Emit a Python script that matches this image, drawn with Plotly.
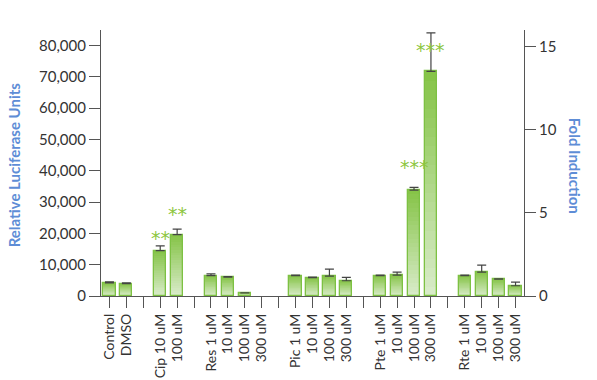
import plotly.graph_objects as go

# ---- data ----
categories = ["Control", "DMSO", "", "Cip 10 uM", "100 uM", "",
              "Res 1 uM", "10 uM", "100 uM", "300 uM", "",
              "Pic 1 uM", "10 uM", "100 uM", "300 uM", "",
              "Pte 1 uM", "10 uM", "100 uM", "300 uM", "",
              "Rte 1 uM", "10 uM", "100 uM", "300 uM"]
rlu = [4200, 3980, None, 14500, 19600, None,
       6530, 6000, 1000, 0, None,
       6470, 5830, 6370, 4870, None,
       6470, 6690, 33850, 71750, None,
       6470, 7640, 5410, 3280]
rlu_err = [300, 200, None, 1500, 1800, None,
           550, 200, 0, 0, None,
           200, 220, 2200, 1050, None,
           200, 950, 850, 12300, None,
           200, 2230, 100, 1180]
significance = {3: "**", 4: "**", 18: "***", 19: "***"}
left_ticks = [0, 10000, 20000, 30000, 40000, 50000, 60000, 70000, 80000]
right_ticks = [0, 5, 10, 15]

# ---- styling ----
FONT = "Lato"
TOP = (0x86, 0xC4, 0x48)
BOTTOM = (0xD8, 0xEB, 0xC8)
OUTLINE = "#7DC143"
AXIS = "#555555"
TITLE_BLUE = "#5E8DD6"
STAR = "#8DC63F"

pos = list(range(len(categories)))
drawn = [None if not v else v for v in rlu]
drawn_err = [None if not e else e for e in rlu_err]

fig = go.Figure()

N = 24
for k in range(N):
    t = k / (N - 1)
    c = tuple(round(TOP[i] + (BOTTOM[i] - TOP[i]) * t) for i in range(3))
    frac = 1 - k / N
    fig.add_trace(go.Bar(
        x=pos, y=[None if v is None else v * frac for v in drawn],
        width=0.72, marker=dict(color="rgb(%d,%d,%d)" % c, line=dict(width=0)),
        hoverinfo="skip", showlegend=False))

fig.add_trace(go.Bar(
    x=pos, y=drawn, width=0.72,
    marker=dict(color="rgba(0,0,0,0)", line=dict(color=OUTLINE, width=1.3)),
    error_y=dict(type="data", array=drawn_err, arrayminus=[0] * len(rlu),
                 symmetric=False, color="#444444", thickness=1.2, width=4.5),
    showlegend=False))

fig.add_trace(go.Scatter(x=[None], y=[None], yaxis="y2", showlegend=False))

shifts = {3: 15, 4: 23, 18: 25, 19: 23}
for i, s in significance.items():
    fig.add_annotation(x=pos[i], y=rlu[i], text=s, showarrow=False,
                       yanchor="middle", yshift=shifts[i] - 2,
                       font=dict(family="DejaVu Sans", size=19, color=STAR))

fig.add_annotation(xref="paper", yref="paper", x=-0.205, y=0.4925,
                   xanchor="center", yanchor="middle",
                   text="<b>Relative Luciferase Units</b>", textangle=-90,
                   showarrow=False, font=dict(family=FONT, size=15, color=TITLE_BLUE))
fig.add_annotation(xref="paper", yref="paper", x=1.121, y=0.489,
                   xanchor="center", yanchor="middle",
                   text="<b>Fold Induction</b>", textangle=90,
                   showarrow=False, font=dict(family=FONT, size=15, color=TITLE_BLUE))

fig.update_layout(
    width=597, height=380,
    margin=dict(l=101, r=73, t=30, b=84, autoexpand=False),
    paper_bgcolor="white", plot_bgcolor="white",
    barmode="overlay", bargap=0,
    font=dict(family=FONT, color="#333333"),
    xaxis=dict(range=[-0.5, len(categories) - 0.5], tickmode="array",
               tickvals=pos, ticktext=categories, tickangle=-90,
               ticks="outside", ticklen=11, tickcolor=AXIS, tickwidth=1.2,
               showline=True, linecolor=AXIS, linewidth=1.2,
               showgrid=False, zeroline=False, automargin=False,
               tickfont=dict(family=FONT, size=14, color="#333333")),
    yaxis=dict(range=[0, 85000], tickmode="array", tickvals=left_ticks,
               tickformat=",d", ticks="outside", ticklen=11, tickcolor=AXIS,
               tickwidth=1.2, showline=True, linecolor=AXIS, linewidth=1.2,
               showgrid=False, zeroline=False, automargin=False,
               tickfont=dict(family=FONT, size=15, color="#333333")),
    yaxis2=dict(range=[0, 16], overlaying="y", side="right", tickmode="array",
                tickvals=right_ticks, ticks="outside", ticklen=11,
                tickcolor=AXIS, tickwidth=1.2, showline=True, linecolor=AXIS,
                linewidth=1.2, showgrid=False, zeroline=False, automargin=False,
                tickfont=dict(family=FONT, size=15, color="#333333")),
)

fig.write_html("out.html", config={"displayModeBar": False},
               post_script="document.body.style.margin='0px';"
                           "document.body.style.overflow='hidden';")
